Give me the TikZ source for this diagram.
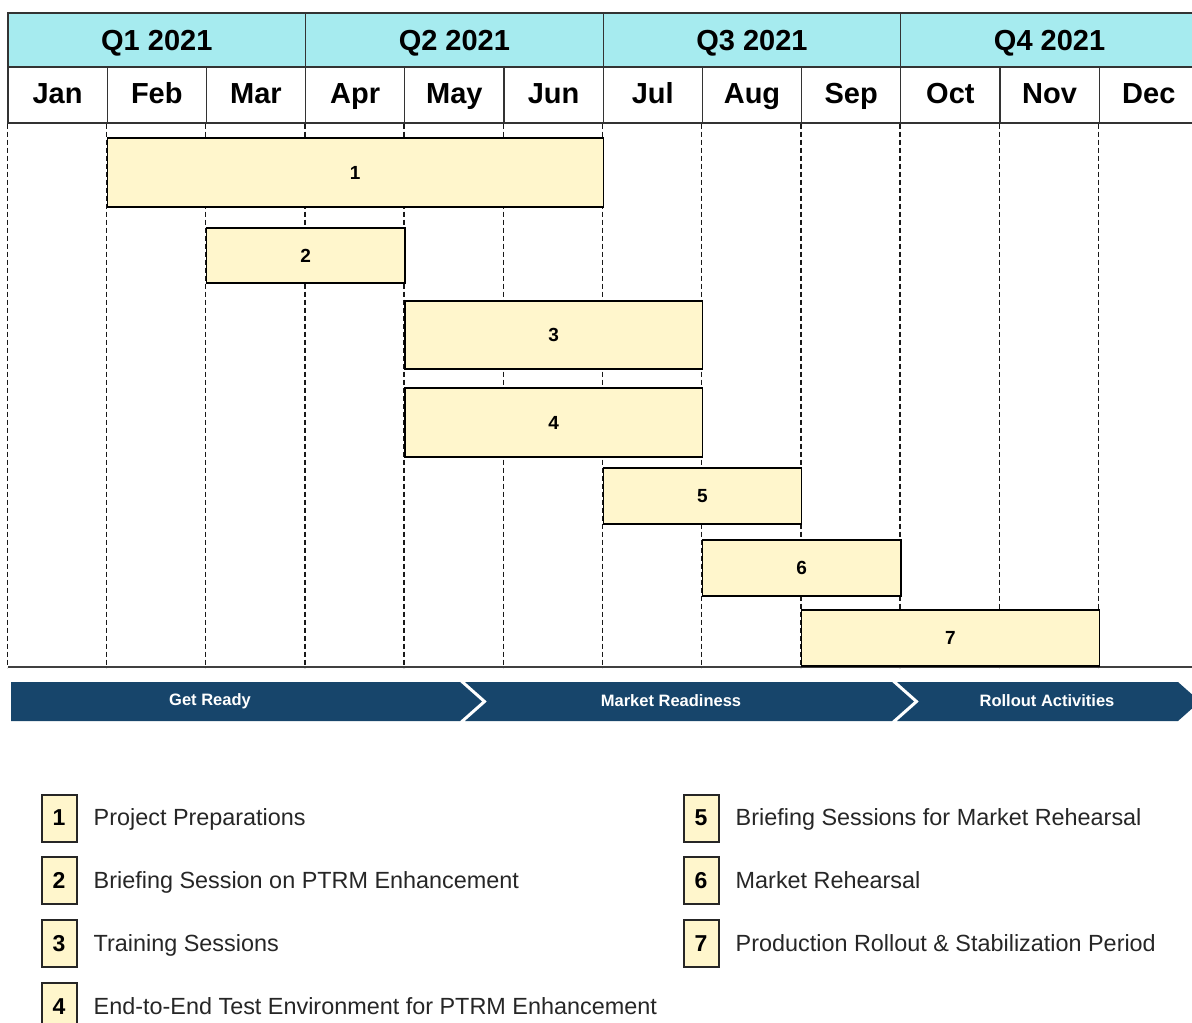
\documentclass[tikz,border=0pt]{standalone}
\usepackage{fontspec}
\setmainfont{Liberation Sans}
\usetikzlibrary{positioning}
\definecolor{qcyan}{HTML}{A6EBEF}
\definecolor{barfill}{HTML}{FFF6CC}
\definecolor{navy}{HTML}{17456B}
\tikzset{
  quarter/.style={draw=black!80, line width=1.3pt, fill=qcyan, minimum width=297.6pt, minimum height=54pt, inner sep=0pt, text height=20pt, text depth=0pt, font=\fontsize{29}{32}\selectfont\bfseries},
  month/.style={draw=black!80, line width=1.3pt, fill=white, minimum width=99.2pt, minimum height=56pt, inner sep=0pt, text height=21pt, text depth=5pt, font=\fontsize{29}{32}\selectfont\bfseries},
  monthline/.style={dashed, dash pattern=on 5pt off 3pt, line width=1.4pt, black!90},
  bar/.style={draw=black, line width=1.4pt, fill=barfill, inner sep=0pt, font=\fontsize{19}{20}\selectfont\bfseries},
  phase/.style={fill=navy},
  phasetext/.style={text=white, inner sep=0pt, font=\fontsize{16.5}{18}\selectfont\bfseries},
  key/.style={draw=black!85, line width=2pt, fill=barfill, minimum width=35pt, minimum height=47pt, inner sep=0pt, font=\fontsize{23}{24}\selectfont\bfseries},
  keytext/.style={inner sep=0pt, text=black!85, font=\fontsize{23.4}{24}\selectfont}
}

\begin{document}
\begin{tikzpicture}[x=1pt, y=-1pt]
  \useasboundingbox (0,0) rectangle (1192,1023);
  \clip (0,0) rectangle (1192,1023);

  % header
  \foreach \q [count=\k] in {Q1 2021, Q2 2021, Q3 2021, Q4 2021}
    \node[quarter] (q\k) at ({8+297.6*\k-148.8},40) {\q};
  \foreach \m [count=\i] in {Jan,Feb,Mar,Apr,May,Jun,Jul,Aug,Sep,Oct,Nov,Dec}
    \node[month] (m\i) at ({8+99.2*\i-49.6},95) {\m};

  % month grid
  \foreach \i in {1,...,12}
    \draw[monthline] (m\i.south west) -- ++(0,544);
  \draw[line width=1.5pt, black!75] (8,667) -- (1192,667);

  % bars
  \foreach \n/\a/\b/\t/\h in {1/1/6/138/207, 2/2/4/228/283, 3/4/7/301/369, 4/4/7/388/457, 5/6/8/468/524, 6/7/9/540/596, 7/8/11/610/666} {
    \pgfmathsetmacro\bw{99.2*(\b-\a)}
    \pgfmathsetmacro\bh{\h-\t}
    \node[bar, minimum width=\bw pt, minimum height=\bh pt] (bar\n) at ({8+49.6*(\a+\b)},{(\t+\h)/2}) {\n};
  }

  % phases
  \fill[phase] (11,682) -- (460,682) -- (482,701.5) -- (460,721) -- (11,721) -- cycle;
  \fill[phase] (465,682) -- (892,682) -- (914,701.5) -- (892,721) -- (465,721) -- (487,701.5) -- cycle;
  \fill[phase] (897,682) -- (1178,682) -- (1200,701.5) -- (1178,721) -- (897,721) -- (919,701.5) -- cycle;
  \node[phasetext] (ph1) at (210,701) {Get Ready};
  \node[phasetext] (ph2) at (671,701) {Market Readiness};
  \node[phasetext] (ph3) at (1047,701) {Rollout Activities};

  % legend
  \node[key] (k1) at (59,818) {1};
  \node[key, below=13.7pt of k1] (k2) {2};
  \node[key, below=13.7pt of k2] (k3) {3};
  \node[key, below=13.7pt of k3] (k4) {4};
  \node[key] (k5) at (701,818) {5};
  \node[key, below=13.7pt of k5] (k6) {6};
  \node[key, below=13.7pt of k6] (k7) {7};

  \node[keytext, base right=16pt of k1] (t1) {Project Preparations};
  \node[keytext, base right=16pt of k2] (t2) {Briefing Session on PTRM Enhancement};
  \node[keytext, base right=16pt of k3] (t3) {Training Sessions};
  \node[keytext, base right=16pt of k4] (t4) {End-to-End Test Environment for PTRM Enhancement};
  \node[keytext, base right=16pt of k5] (t5) {Briefing Sessions for Market Rehearsal};
  \node[keytext, base right=16pt of k6] (t6) {Market Rehearsal};
  \node[keytext, base right=16pt of k7] (t7) {Production Rollout \& Stabilization Period};
\end{tikzpicture}
\end{document}
